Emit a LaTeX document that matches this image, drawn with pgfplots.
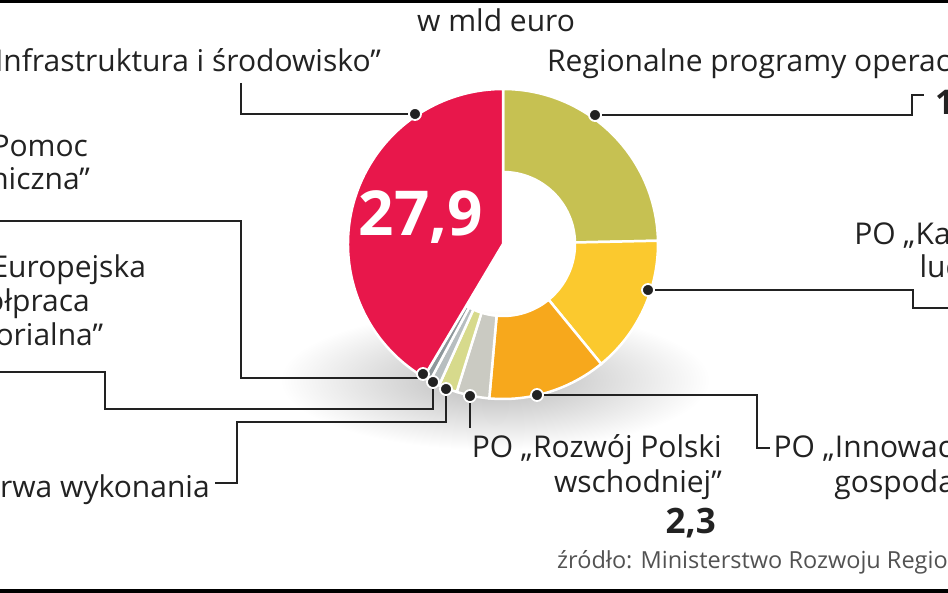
\documentclass[border=0pt]{standalone}
\usepackage{pgfplots}
\pgfplotsset{compat=1.18}
\usepackage{pgfplotstable}
\usetikzlibrary{calc}
\usepackage{fontspec}
\setmainfont{Open Sans}

\definecolor{cIS}{HTML}{E8174B}
\definecolor{cRPO}{HTML}{C6C152}
\definecolor{cKL}{HTML}{FBC92E}
\definecolor{cIG}{HTML}{F7A81C}
\definecolor{cRPW}{HTML}{CACAC2}
\definecolor{cREZ}{HTML}{D7DA8C}
\definecolor{cEWT}{HTML}{B7BEC0}
\definecolor{cPT}{HTML}{8E989C}
\definecolor{ink}{HTML}{222222}

% values in bn euro, clockwise from 12 o'clock
\pgfplotstableread[col sep=comma]{
name,value
RPO,16.6
KL,9.7
IG,8.3
RPW,2.3
REZ,1.3
EWT,0.7
PT,0.5
IIS,27.9
}\shares

\newcommand\lab{\fontsize{30}{34}\selectfont}
\newcommand\donutseg[2]{%
  \edef\sa{\csname angS#1\endcsname}\edef\sb{\csname angE#1\endcsname}%
  \edef\temp{\noexpand\fill[#2,draw=white,line width=2.5pt]
    ($(C)+(\sa:155pt)$) arc[start angle=\sa,end angle=\sb,radius=155pt]
    -- ($(C)+(\sb:72pt)$) arc[start angle=\sb,end angle=\sa,radius=72pt] -- cycle;}%
  \temp}
\newcommand\pieseg[2]{%
  \edef\sa{\csname angS#1\endcsname}\edef\sb{\csname angE#1\endcsname}%
  \edef\temp{\noexpand\fill[#2,draw=white,line width=2.5pt]
    (C) -- ($(C)+(\sa:155pt)$) arc[start angle=\sa,end angle=\sb,radius=155pt] -- cycle;}%
  \temp}

\pgfplotstablegetrowsof{\shares}
\pgfmathtruncatemacro{\nlast}{\pgfplotsretval-1}
\gdef\tot{0}
\foreach \i in {0,...,\nlast}{%
  \pgfplotstablegetelem{\i}{value}\of\shares
  \pgfmathsetmacro{\tmp}{\tot+\pgfplotsretval}%
  \global\let\tot\tmp
}
\gdef\cum{0}
\foreach \i in {0,...,\nlast}{%
  \pgfplotstablegetelem{\i}{value}\of\shares
  \pgfmathsetmacro{\a}{90-(\cum/\tot)*360}%
  \pgfmathsetmacro{\tmp}{\cum+\pgfplotsretval}%
  \pgfmathsetmacro{\b}{90-(\tmp/\tot)*360}%
  \global\let\cum\tmp
  \expandafter\xdef\csname angS\i\endcsname{\a}%
  \expandafter\xdef\csname angE\i\endcsname{\b}%
}

\begin{document}
\begin{tikzpicture}
\useasboundingbox (0,0) rectangle (948pt,593pt);
\clip (0,0) rectangle (948pt,593pt);
\begin{axis}[at={(0pt,0pt)}, anchor=south west, x=1pt, y=1pt,
  xmin=0, xmax=948, ymin=0, ymax=593, y dir=reverse,
  hide axis, clip=false]
  % frame bars
  \fill[black] (axis cs:0,0) rectangle (axis cs:948,3.5);
  \fill[black] (axis cs:0,589) rectangle (axis cs:948,593);
  % shadow
  \shade[inner color=black!28, outer color=white] (axis cs:495,380) ellipse[x radius=215pt, y radius=70pt];
  \coordinate (C) at (axis cs:503,244);
  \donutseg{0}{cRPO}
  \donutseg{1}{cKL}
  \donutseg{2}{cIG}
  \donutseg{3}{cRPW}
  \donutseg{4}{cREZ}
  \donutseg{5}{cEWT}
  \donutseg{6}{cPT}
  \pieseg{7}{cIS}
  % leader lines
  \addplot[draw=ink, line width=1.5pt, mark=none] coordinates {(241,83) (241,114) (415,114)};
  \addplot[draw=ink, line width=1.5pt, mark=none] coordinates {(595,115) (912,115) (912,95) (924,95)};
  \addplot[draw=ink, line width=1.5pt, mark=none] coordinates {(648,290) (913,290) (913,308) (960,308)};
  \addplot[draw=ink, line width=1.5pt, mark=none] coordinates {(537,395) (757,395) (757,448) (770,448)};
  \addplot[draw=ink, line width=1.5pt, mark=none] coordinates {(470,396) (470,428)};
  \addplot[draw=ink, line width=1.5pt, mark=none] coordinates {(446,389) (446,422) (237,422) (237,483) (215,483)};
  \addplot[draw=ink, line width=1.5pt, mark=none] coordinates {(433,382) (433,409) (105,409) (105,372) (-10,372)};
  \addplot[draw=ink, line width=1.5pt, mark=none] coordinates {(420,378) (241,378) (241,221) (-10,221)};
  % dots on the segments
  \addplot[only marks, mark=*, mark size=6pt, mark options={fill=ink, draw=white, line width=1.8pt}]
    coordinates {(415,114) (595,115) (648,290) (537,395) (470,396) (446,389) (433,382) (423,374)};
  % texts
  \node[anchor=base west, inner sep=0, font=\lab, text=ink] at (axis cs:417,32) {w mld euro};
  \node[anchor=base east, inner sep=0, font=\lab, text=ink] at (axis cs:381,72) {PO „Infrastruktura i środowisko”};
  \node[anchor=base west, inner sep=0, font=\lab, text=ink] at (axis cs:547,72) {Regionalne programy operacyjne};
  \node[anchor=base west, inner sep=0, font=\fontsize{34}{34}\selectfont\bfseries, text=ink] at (axis cs:935,115) {16,6};
  \node[anchor=base east, inner sep=0, font=\lab, text=ink] at (axis cs:1012,245) {PO „Kapitał};
  \node[anchor=base east, inner sep=0, font=\lab, text=ink] at (axis cs:1012,278) {ludzki”};
  \node[anchor=base east, inner sep=0, font=\lab, text=ink] at (axis cs:1010,457) {PO „Innowacyjna};
  \node[anchor=base east, inner sep=0, font=\lab, text=ink] at (axis cs:1010,493) {gospodarka”};
  \node[anchor=base east, inner sep=0, font=\lab, text=ink] at (axis cs:722,457) {PO „Rozwój Polski};
  \node[anchor=base east, inner sep=0, font=\lab, text=ink] at (axis cs:722,492) {wschodniej”};
  \node[anchor=base east, inner sep=0, font=\fontsize{35}{35}\selectfont\bfseries, text=ink] at (axis cs:716,533) {2,3};
  \node[anchor=base west, inner sep=0, font=\fontsize{23.5}{25}\selectfont, text=black!68] at (axis cs:557,568) {źródło: Ministerstwo Rozwoju Regionalnego};
  \node[anchor=base west, inner sep=0, font=\lab, text=ink] at (axis cs:-70,157) {PO „Pomoc};
  \node[anchor=base west, inner sep=0, font=\lab, text=ink] at (axis cs:-70,190) {techniczna”};
  \node[anchor=base west, inner sep=0, font=\lab, text=ink] at (axis cs:-70,278) {PO „Europejska};
  \node[anchor=base west, inner sep=0, font=\lab, text=ink] at (axis cs:-70,312) {współpraca};
  \node[anchor=base west, inner sep=0, font=\lab, text=ink] at (axis cs:-70,346) {terytorialna”};
  \node[anchor=base west, inner sep=0, font=\lab, text=ink] at (axis cs:-66,497) {Rezerwa wykonania};
  \node[anchor=base, inner sep=0, font=\fontsize{62}{62}\selectfont\bfseries, text=white] at (axis cs:421,236) {27,9};
\end{axis}
\end{tikzpicture}
\end{document}
